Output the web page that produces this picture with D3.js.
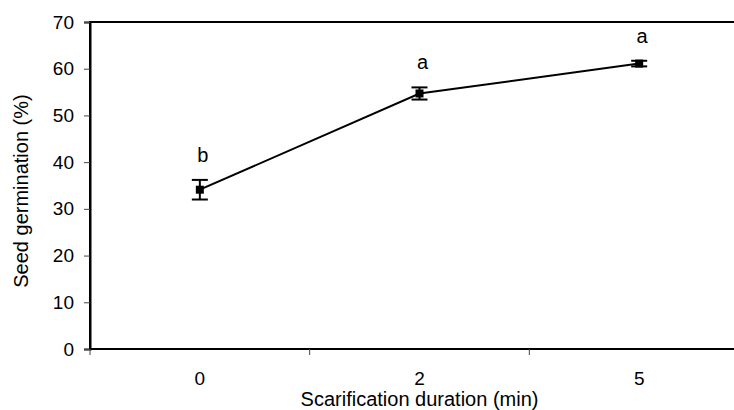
<!DOCTYPE html>
<html lang="en">
<head>
    <meta charset="UTF-8">
    <title>Seed germination</title>
    <script src="https://d3js.org/d3.v7.min.js"></script>
    <style>
        body { margin: 0; background: #fff; }
        text { font-family: "Liberation Sans", Arial, sans-serif; fill: #000; }
    </style>
</head>
<body>
<script>
    // data
    var durations = ["0", "2", "5"];
    var germination = [34.1, 54.7, 61.1];
    var stderr = [2.1, 1.3, 0.6];
    var letters = ["b", "a", "a"];
    var yTicks = [0, 10, 20, 30, 40, 50, 60, 70];

    var width = 734, height = 410;
    var svg = d3.select("body").append("svg")
        .attr("width", width)
        .attr("height", height);

    // plot area runs off the right edge like the original
    var pLeft = 90, pRight = 749, pTop = 22, pBottom = 349;

    var x = d3.scaleBand().domain(durations).range([pLeft, pRight]);
    var y = d3.scaleLinear().domain([0, 70]).range([pBottom, pTop]);

    var pts = durations.map(function(d, i) {
        return {cat: d, v: germination[i], se: stderr[i], lab: letters[i]};
    });
    function cx(d) { return x(d.cat) + x.bandwidth() / 2; }

    // frame
    svg.append("rect")
        .attr("x", pLeft).attr("y", pTop)
        .attr("width", pRight - pLeft).attr("height", pBottom - pTop)
        .attr("fill", "none")
        .attr("stroke", "#000")
        .attr("stroke-width", 2);

    // y axis
    var yAxis = svg.append("g")
        .attr("transform", "translate(" + pLeft + ",0)")
        .call(d3.axisLeft(y).tickValues(yTicks).tickSize(6).tickPadding(10));
    yAxis.select(".domain").attr("stroke-width", 2);
    yAxis.selectAll(".tick line").attr("stroke", "#444");
    yAxis.selectAll("text")
        .style("font-size", "19px")
        .style("font-family", "Liberation Sans, Arial, sans-serif");

    // x axis: ticks between categories, labels centred
    var bounds = durations.map(function(d) { return x(d); }).concat([pRight]);
    svg.selectAll(".xtick").data(bounds).enter().append("line")
        .attr("x1", function(d) { return d; })
        .attr("x2", function(d) { return d; })
        .attr("y1", pBottom)
        .attr("y2", pBottom + 6)
        .attr("stroke", "#444");
    svg.selectAll(".xlab").data(durations).enter().append("text")
        .attr("x", function(d) { return x(d) + x.bandwidth() / 2; })
        .attr("y", 385)
        .attr("text-anchor", "middle")
        .style("font-size", "19px")
        .text(function(d) { return d; });

    // axis titles
    svg.append("text")
        .attr("x", x("2") + x.bandwidth() / 2)
        .attr("y", 406)
        .attr("text-anchor", "middle")
        .style("font-size", "20px")
        .text("Scarification duration (min)");
    svg.append("text")
        .attr("transform", "translate(28,191) rotate(-90)")
        .attr("text-anchor", "middle")
        .style("font-size", "20px")
        .text("Seed germination (%)");

    // line
    var line = d3.line().x(cx).y(function(d) { return y(d.v); });
    svg.append("path")
        .datum(pts)
        .attr("d", line)
        .attr("fill", "none")
        .attr("stroke", "#000")
        .attr("stroke-width", 2);

    // error bars
    var eb = svg.selectAll(".eb").data(pts).enter().append("g");
    eb.append("line")
        .attr("x1", cx).attr("x2", cx)
        .attr("y1", function(d) { return y(d.v + d.se); })
        .attr("y2", function(d) { return y(d.v - d.se); })
        .attr("stroke", "#000").attr("stroke-width", 2);
    [1, -1].forEach(function(s) {
        eb.append("line")
            .attr("x1", function(d) { return cx(d) - 8; })
            .attr("x2", function(d) { return cx(d) + 8; })
            .attr("y1", function(d) { return y(d.v + s * d.se); })
            .attr("y2", function(d) { return y(d.v + s * d.se); })
            .attr("stroke", "#000").attr("stroke-width", 2);
    });

    // markers
    svg.selectAll(".pt").data(pts).enter().append("rect")
        .attr("x", function(d) { return cx(d) - 4; })
        .attr("y", function(d) { return y(d.v) - 4; })
        .attr("width", 8).attr("height", 8)
        .attr("fill", "#000");

    // significance letters
    svg.selectAll(".sig").data(pts).enter().append("text")
        .attr("x", function(d) { return cx(d) + 3; })
        .attr("y", function(d) { return y(d.v + d.se) - 18; })
        .attr("text-anchor", "middle")
        .style("font-size", "20px")
        .text(function(d) { return d.lab; });
</script>
</body>
</html>
